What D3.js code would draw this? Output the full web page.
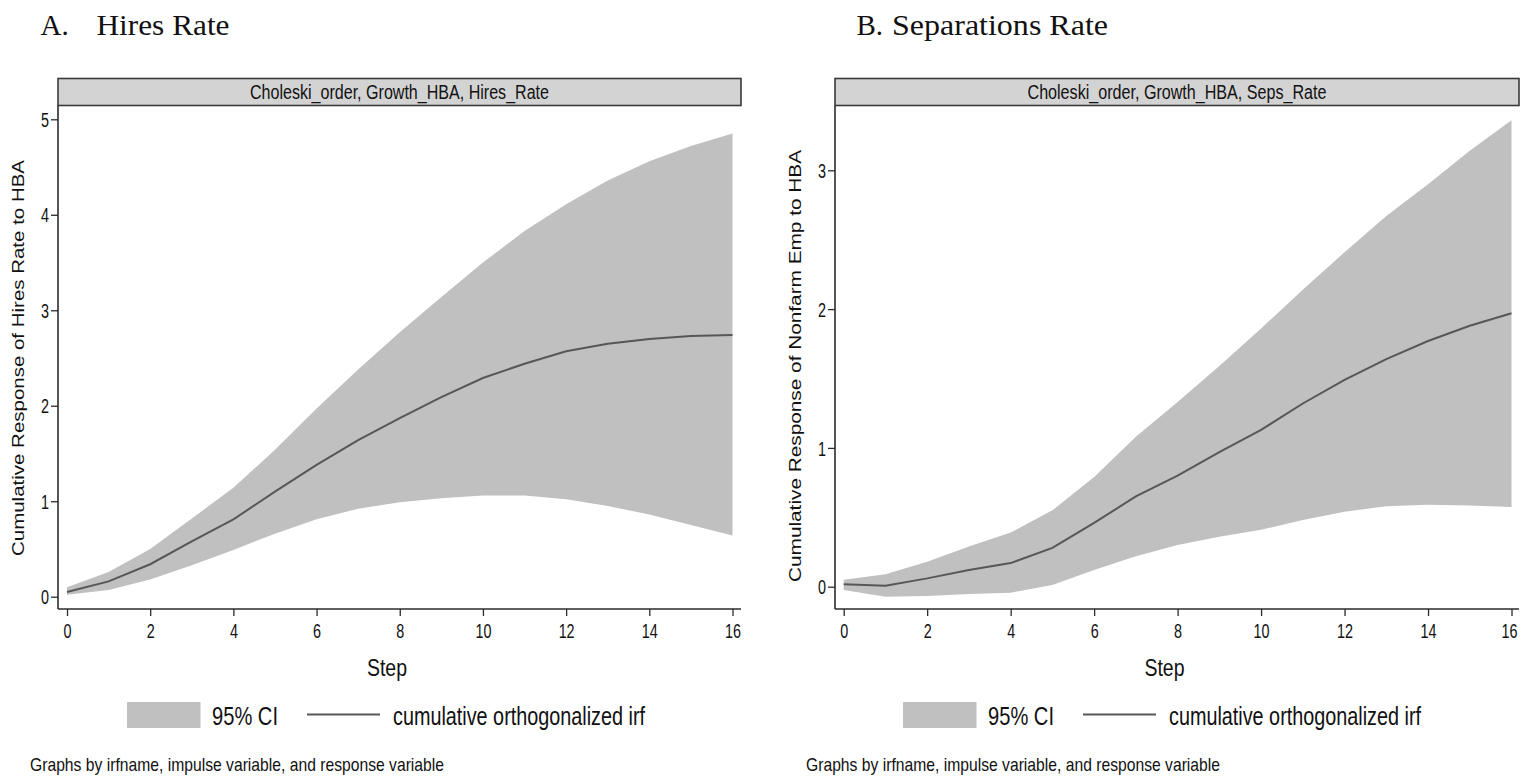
<!DOCTYPE html>
<html>
<head>
<meta charset="utf-8">
<script src="https://cdn.jsdelivr.net/npm/d3@7"></script>
<style>
  html, body { margin: 0; padding: 0; background: #fff; }
  svg { display: block; }
  .narrow { font-family: "Liberation Sans Narrow", "Arial Narrow", "Liberation Sans", Arial, sans-serif; }
</style>
</head>
<body>
<svg id="chart" width="1521" height="777"></svg>
<script>
// ---- data ----
const steps = [0,1,2,3,4,5,6,7,8,9,10,11,12,13,14,15,16];
const xTicks = [0,2,4,6,8,10,12,14,16];

const hiresIrf   = [0.05,0.16,0.34,0.58,0.81,1.10,1.38,1.64,1.87,2.09,2.29,2.44,2.57,2.65,2.70,2.73,2.74];
const hiresUpper = [0.10,0.26,0.50,0.82,1.14,1.54,1.97,2.38,2.77,3.14,3.50,3.83,4.11,4.36,4.56,4.72,4.85];
const hiresLower = [0.02,0.07,0.18,0.33,0.49,0.66,0.81,0.92,0.99,1.03,1.06,1.06,1.02,0.95,0.86,0.75,0.64];
const hiresYTicks = [0,1,2,3,4,5];

const sepsIrf   = [0.017,0.007,0.06,0.12,0.17,0.28,0.46,0.65,0.80,0.97,1.13,1.32,1.49,1.64,1.77,1.88,1.97];
const sepsUpper = [0.05,0.09,0.18,0.29,0.39,0.55,0.79,1.08,1.33,1.59,1.86,2.14,2.41,2.67,2.90,3.14,3.36];
const sepsLower = [-0.024,-0.072,-0.067,-0.053,-0.043,0.012,0.12,0.22,0.30,0.36,0.41,0.48,0.54,0.58,0.59,0.585,0.575];
const sepsYTicks = [0,1,2,3];

const panelLetters = ["A.", "B."];
const panelNames = ["Hires Rate", "Separations Rate"];
const stripLabels = ["Choleski_order, Growth_HBA, Hires_Rate", "Choleski_order, Growth_HBA, Seps_Rate"];
const yTitles = ["Cumulative Response of Hires Rate to HBA", "Cumulative Response of Nonfarm Emp to HBA"];
const xTitle = "Step";
const legendLabels = ["95% CI", "cumulative orthogonalized irf"];
const footnote = "Graphs by irfname, impulse variable, and response variable";

// ---- drawing ----
const svg = d3.select("#chart");
const CI_FILL = "#c0c0c0";
const LINE_COL = "#575757";
const AXIS_COL = "#2b2b2b";
const DIGIT_W = 8;

const panels = [
  { irf: hiresIrf, up: hiresUpper, lo: hiresLower, yTicks: hiresYTicks, yDomain: [0,5],
    left: 58, right: 741, top: 106, bottom: 609,
    xRange: [67, 732.5], yRange: [596.7, 119.3],
    letterX: 40.5, nameX: 96.5, nameLen: 133, stripLen: 299,
    yTitleX: 24, yTitleLen: 396, yTitleCY: 358,
    stepX: 387, legendX: 127, footX: 30, lastDx: 0 },
  { irf: sepsIrf, up: sepsUpper, lo: sepsLower, yTicks: sepsYTicks, yDomain: [0,3],
    left: 835, right: 1519, top: 106, bottom: 609,
    xRange: [843.7, 1511.5], yRange: [586.7, 170.3],
    letterX: 856.5, nameX: 892, nameLen: 216, stripLen: 299,
    yTitleX: 801, yTitleLen: 432, yTitleCY: 366,
    stepX: 1164.5, legendX: 903, footX: 806, lastDx: -2.5 }
];

panels.forEach((p, i) => {
  const g = svg.append("g");
  const x = d3.scaleLinear().domain([0,16]).range(p.xRange);
  const y = d3.scaleLinear().domain(p.yDomain).range(p.yRange);

  // panel title (serif)
  const serif = "'Liberation Serif', 'Times New Roman', serif";
  g.append("text")
    .attr("x", p.letterX).attr("y", 34.5)
    .attr("font-family", serif).attr("font-size", 29).attr("fill", "#111")
    .text(panelLetters[i]);
  g.append("text")
    .attr("x", p.nameX).attr("y", 34.5)
    .attr("font-family", serif).attr("font-size", 29).attr("fill", "#111")
    .attr("textLength", p.nameLen).attr("lengthAdjust", "spacingAndGlyphs")
    .text(panelNames[i]);

  // strip
  g.append("rect")
    .attr("x", p.left).attr("y", 78.5)
    .attr("width", p.right - p.left).attr("height", 27)
    .attr("fill", "#d3d3d3").attr("stroke", "#3a3a3a").attr("stroke-width", 1.6);
  g.append("text").attr("class", "narrow")
    .attr("x", (p.left + p.right) / 2).attr("y", 99)
    .attr("text-anchor", "middle").attr("font-size", 20).attr("fill", "#111")
    .attr("textLength", p.stripLen).attr("lengthAdjust", "spacingAndGlyphs")
    .text(stripLabels[i]);

  // CI band
  const area = d3.area()
    .x((d, j) => x(steps[j]))
    .y0((d, j) => y(p.lo[j]))
    .y1((d, j) => y(p.up[j]));
  g.append("path").datum(steps)
    .attr("d", area).attr("fill", CI_FILL).attr("stroke", "none");

  // irf line
  const line = d3.line().x((d, j) => x(steps[j])).y(d => y(d));
  g.append("path").datum(p.irf)
    .attr("d", line).attr("fill", "none")
    .attr("stroke", LINE_COL).attr("stroke-width", 2);

  // y axis
  const yAxis = g.append("g").attr("transform", `translate(${p.left},0)`)
    .call(d3.axisLeft(y).tickValues(p.yTicks).tickSize(7).tickPadding(2).tickFormat(d3.format("d")));
  yAxis.select(".domain").remove();
  yAxis.selectAll(".tick line").attr("stroke", AXIS_COL).attr("stroke-width", 1.3);
  yAxis.selectAll(".tick text").attr("class", "narrow").attr("font-size", 20).attr("fill", "#111")
    .attr("dy", "0.36em")
    .attr("textLength", d => String(d).length * DIGIT_W).attr("lengthAdjust", "spacingAndGlyphs");
  g.append("line").attr("x1", p.left).attr("x2", p.left)
    .attr("y1", p.top).attr("y2", p.bottom)
    .attr("stroke", AXIS_COL).attr("stroke-width", 1.6);

  // x axis
  const xAxis = g.append("g").attr("transform", `translate(0,${p.bottom})`)
    .call(d3.axisBottom(x).tickValues(xTicks).tickSize(7).tickPadding(8).tickFormat(d3.format("d")));
  xAxis.select(".domain").remove();
  xAxis.selectAll(".tick line").attr("stroke", AXIS_COL).attr("stroke-width", 1.3);
  xAxis.selectAll(".tick text").attr("class", "narrow").attr("font-size", 20).attr("fill", "#111")
    .attr("dx", d => d === 16 ? p.lastDx : 0)
    .attr("textLength", d => String(d).length * DIGIT_W).attr("lengthAdjust", "spacingAndGlyphs");
  g.append("line").attr("x1", p.left).attr("x2", p.right)
    .attr("y1", p.bottom).attr("y2", p.bottom)
    .attr("stroke", AXIS_COL).attr("stroke-width", 1.6);

  // y title
  g.append("text")
    .attr("transform", `translate(${p.yTitleX},${p.yTitleCY}) rotate(-90)`)
    .attr("text-anchor", "middle")
    .attr("font-family", "'Liberation Sans', Arial, sans-serif")
    .attr("font-size", 17).attr("fill", "#111")
    .attr("textLength", p.yTitleLen).attr("lengthAdjust", "spacingAndGlyphs")
    .text(yTitles[i]);

  // x title
  g.append("text").attr("class", "narrow")
    .attr("x", p.stepX).attr("y", 676)
    .attr("text-anchor", "middle").attr("font-size", 24).attr("fill", "#111")
    .attr("textLength", 40).attr("lengthAdjust", "spacingAndGlyphs")
    .text(xTitle);

  // legend
  const lx = p.legendX;
  g.append("rect").attr("x", lx).attr("y", 702).attr("width", 73.5).attr("height", 26)
    .attr("fill", CI_FILL);
  g.append("text").attr("class", "narrow")
    .attr("x", lx + 85).attr("y", 725).attr("font-size", 25).attr("fill", "#111")
    .attr("textLength", 66).attr("lengthAdjust", "spacingAndGlyphs")
    .text(legendLabels[0]);
  g.append("line").attr("x1", lx + 180).attr("x2", lx + 253)
    .attr("y1", 714.5).attr("y2", 714.5)
    .attr("stroke", LINE_COL).attr("stroke-width", 2);
  g.append("text").attr("class", "narrow")
    .attr("x", lx + 266).attr("y", 725).attr("font-size", 25).attr("fill", "#111")
    .attr("textLength", 252).attr("lengthAdjust", "spacingAndGlyphs")
    .text(legendLabels[1]);

  // footnote
  g.append("text").attr("class", "narrow")
    .attr("x", p.footX).attr("y", 770.5).attr("font-size", 19).attr("fill", "#111")
    .attr("textLength", 414).attr("lengthAdjust", "spacingAndGlyphs")
    .text(footnote);
});
</script>
</body>
</html>
